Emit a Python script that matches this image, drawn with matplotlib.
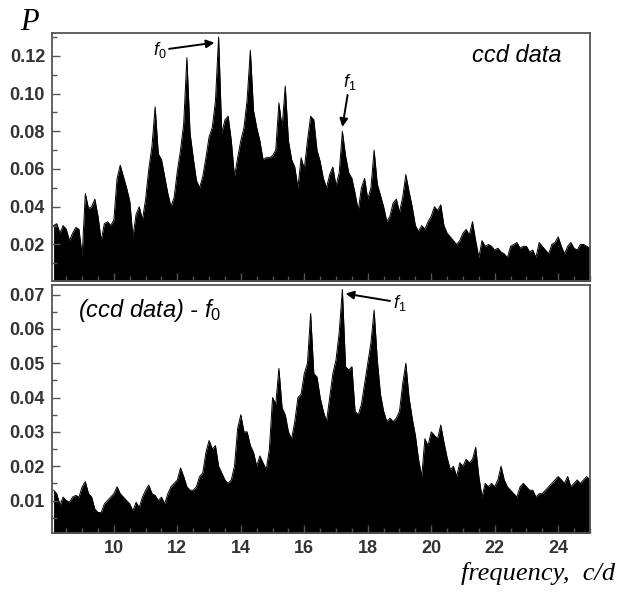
"""Periodogram of ccd data before and after prewhitening with f0."""

import numpy as np
import matplotlib.pyplot as plt
from matplotlib.ticker import MultipleLocator, FormatStrFormatter

plt.rcParams["mathtext.fontset"] = "custom"
plt.rcParams["mathtext.it"] = "Liberation Sans:italic"
plt.rcParams["mathtext.rm"] = "Liberation Sans"

# frequency grid (c/d), one value per 0.1 c/d
freq = np.round(np.arange(8.1, 25.05, 0.1), 2)

# upper envelope of the original ccd periodogram
power_ccd = [
    0.030, 0.031, 0.026, 0.030, 0.028, 0.022, 0.026, 0.029, 0.028, 0.014,   # 8.1-9.0
    0.047, 0.039, 0.040, 0.044, 0.035, 0.022, 0.031, 0.032, 0.030, 0.033,   # 9.1-10.0
    0.055, 0.062, 0.056, 0.050, 0.043, 0.024, 0.036, 0.040, 0.033, 0.044,   # 10.1-11.0
    0.060, 0.072, 0.093, 0.068, 0.065, 0.056, 0.047, 0.040, 0.045, 0.059,   # 11.1-12.0
    0.070, 0.084, 0.119, 0.079, 0.066, 0.054, 0.050, 0.056, 0.066, 0.077,   # 12.1-13.0
    0.082, 0.096, 0.130, 0.079, 0.086, 0.088, 0.075, 0.056, 0.066, 0.075,   # 13.1-14.0
    0.082, 0.097, 0.123, 0.091, 0.082, 0.075, 0.065, 0.066, 0.066, 0.067,   # 14.1-15.0
    0.070, 0.095, 0.082, 0.104, 0.075, 0.065, 0.061, 0.050, 0.066, 0.060,   # 15.1-16.0
    0.075, 0.088, 0.086, 0.070, 0.064, 0.055, 0.050, 0.057, 0.061, 0.051,   # 16.1-17.0
    0.058, 0.080, 0.067, 0.058, 0.055, 0.047, 0.038, 0.050, 0.055, 0.044,   # 17.1-18.0
    0.050, 0.070, 0.052, 0.046, 0.040, 0.032, 0.035, 0.042, 0.044, 0.037,   # 18.1-19.0
    0.045, 0.057, 0.048, 0.040, 0.030, 0.027, 0.030, 0.028, 0.032, 0.035,   # 19.1-20.0
    0.040, 0.038, 0.041, 0.030, 0.026, 0.024, 0.022, 0.020, 0.022, 0.026,   # 20.1-21.0
    0.028, 0.025, 0.032, 0.022, 0.013, 0.022, 0.019, 0.020, 0.019, 0.017,   # 21.1-22.0
    0.018, 0.016, 0.015, 0.013, 0.019, 0.020, 0.021, 0.018, 0.019, 0.019,   # 22.1-23.0
    0.016, 0.017, 0.013, 0.021, 0.019, 0.017, 0.015, 0.020, 0.021, 0.024,   # 23.1-24.0
    0.019, 0.015, 0.019, 0.021, 0.018, 0.017, 0.020, 0.020, 0.019, 0.018,   # 24.1-25.0
]

# upper envelope after removing f0
power_res = [
    0.013, 0.012, 0.0085, 0.011, 0.010, 0.0095, 0.011, 0.0115, 0.011, 0.014,
    0.0155, 0.012, 0.011, 0.0075, 0.0065, 0.0065, 0.009, 0.010, 0.011, 0.012,
    0.014, 0.012, 0.011, 0.010, 0.009, 0.007, 0.0095, 0.008, 0.011, 0.013,
    0.0145, 0.012, 0.0115, 0.010, 0.011, 0.009, 0.012, 0.014, 0.015, 0.016,
    0.0195, 0.017, 0.014, 0.013, 0.013, 0.014, 0.017, 0.018, 0.024, 0.0275,
    0.025, 0.026, 0.020, 0.018, 0.016, 0.015, 0.016, 0.020, 0.031, 0.035,
    0.030, 0.030, 0.026, 0.024, 0.020, 0.023, 0.021, 0.019, 0.025, 0.040,
    0.038, 0.0485, 0.037, 0.035, 0.030, 0.028, 0.033, 0.040, 0.041, 0.047,
    0.050, 0.0645, 0.047, 0.046, 0.040, 0.036, 0.033, 0.040, 0.047, 0.051,
    0.059, 0.0715, 0.049, 0.048, 0.049, 0.036, 0.035, 0.038, 0.044, 0.050,
    0.056, 0.0655, 0.051, 0.041, 0.036, 0.033, 0.034, 0.033, 0.034, 0.036,
    0.044, 0.050, 0.040, 0.034, 0.029, 0.022, 0.017, 0.028, 0.026, 0.030,
    0.029, 0.028, 0.032, 0.027, 0.0225, 0.019, 0.020, 0.017, 0.021, 0.020,
    0.022, 0.021, 0.022, 0.0255, 0.017, 0.011, 0.015, 0.014, 0.015, 0.014,
    0.016, 0.020, 0.016, 0.014, 0.013, 0.012, 0.011, 0.014, 0.015, 0.014,
    0.013, 0.013, 0.011, 0.012, 0.012, 0.013, 0.014, 0.015, 0.016, 0.017,
    0.016, 0.015, 0.017, 0.014, 0.015, 0.016, 0.015, 0.016, 0.017, 0.016,
]

top_yticks = [0.02, 0.04, 0.06, 0.08, 0.10, 0.12]
bottom_yticks = [0.01, 0.02, 0.03, 0.04, 0.05, 0.06, 0.07]

tick_font = {"family": "Liberation Sans", "weight": "bold", "size": 13}
label_color = "#333333"
frame_color = "#555555"


def style_axes(ax, ymin, ymax, yticks, yminor, show_x):
    ax.set_xlim(8.05, 25.0)
    ax.set_ylim(ymin, ymax)
    ax.xaxis.set_major_locator(MultipleLocator(2))
    ax.xaxis.set_minor_locator(MultipleLocator(0.5))
    ax.set_yticks(yticks)
    ax.yaxis.set_minor_locator(MultipleLocator(yminor))
    ax.yaxis.set_major_formatter(FormatStrFormatter("%.2f"))
    ax.tick_params(which="both", direction="in", color=frame_color, width=1)
    ax.tick_params(which="major", length=6, pad=5)
    ax.tick_params(which="minor", length=3.5)
    for lab in ax.get_yticklabels() + ax.get_xticklabels():
        lab.set_fontproperties(tick_font)
        lab.set_color(label_color)
    if not show_x:
        ax.tick_params(axis="x", labelbottom=False)
    for sp in ax.spines.values():
        sp.set_color(frame_color)
        sp.set_linewidth(1.3)


fig = plt.figure(figsize=(6.19, 5.97), dpi=100)
ax1 = fig.add_axes([0.084, 0.529, 0.869, 0.416])
ax2 = fig.add_axes([0.084, 0.107, 0.869, 0.415])

for ax, pw in ((ax1, power_ccd), (ax2, power_res)):
    ax.fill_between(freq, 0, pw, color="black", lw=0)
    ax.plot(freq, pw, color="black", lw=0.7)

style_axes(ax1, 0.0005, 0.1322, top_yticks, 0.01, False)
style_axes(ax2, 0.0005, 0.0727, bottom_yticks, 0.005, True)

# panel labels
ax1.text(0.948, 0.91, "ccd data", transform=ax1.transAxes, ha="right", va="center",
         fontsize=17, style="italic", family="Liberation Sans", color="black")
ax2.text(0.048, 0.898, "(ccd data) - $f_{\\mathit{0}}$", transform=ax2.transAxes,
         ha="left", va="center", fontsize=17, style="italic",
         family="Liberation Sans", color="black")

arrow = dict(arrowstyle="-|>", color="black", lw=1.4, mutation_scale=12,
             shrinkA=0, shrinkB=0)
ax1.annotate("$f_{\\mathit{0}}$", xy=(13.17, 0.127), xytext=(11.44, 0.123),
             ha="center", va="center", fontsize=13, arrowprops=arrow)
ax1.annotate("$f_{\\mathit{1}}$", xy=(17.2, 0.0823), xytext=(17.43, 0.106),
             ha="center", va="center", fontsize=13, arrowprops=arrow)
ax2.annotate("$f_{\\mathit{1}}$", xy=(17.3, 0.0703), xytext=(19.0, 0.0677),
             ha="center", va="center", fontsize=13, arrowprops=arrow)

# axis titles as free text, as in the original
fig.text(0.048, 0.963, "P", ha="center", va="center", fontsize=22,
         style="italic", family="Liberation Serif")
fig.text(0.993, 0.04, "frequency,  c/d", ha="right", va="center", fontsize=19,
         style="italic", family="Liberation Serif")

fig.savefig("out.png", dpi=100)
plt.close(fig)
